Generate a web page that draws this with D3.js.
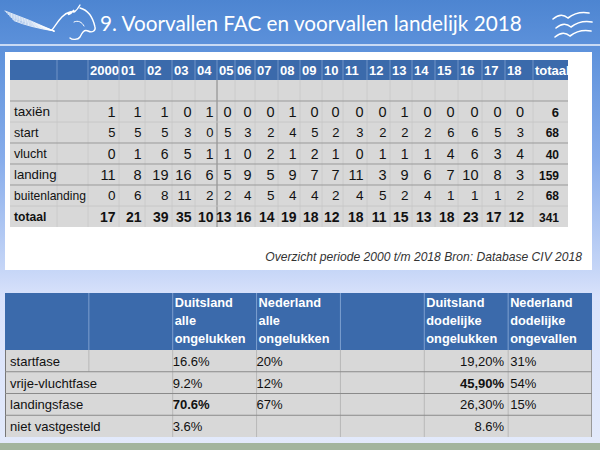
<!DOCTYPE html>
<html>
<head>
<meta charset="utf-8">
<script src="https://cdn.jsdelivr.net/npm/d3@7.9.0/dist/d3.min.js"></script>
<style>
  html, body { margin: 0; padding: 0; background: #fff; }
  svg { display: block; }
</style>
</head>
<body>
<svg id="slide" width="600" height="450"></svg>
<script>
// ---- data: table 1 (voorvallen per jaar) ----
const years = ['2000', '01', '02', '03', '04', '05', '06', '07', '08', '09',
  '10', '11', '12', '13', '14', '15', '16', '17', '18', 'totaal'];
const rowLabels = ['taxiën', 'start', 'vlucht', 'landing', 'buitenlanding', 'totaal'];
const taxien = [1, 1, 1, 0, 1, 0, 0, 0, 1, 0, 0, 0, 0, 1, 0, 0, 0, 0, 0, 6];
const start = [5, 5, 5, 3, 0, 5, 3, 2, 4, 5, 2, 3, 2, 2, 2, 6, 6, 5, 3, 68];
const vlucht = [0, 1, 6, 5, 1, 1, 0, 2, 1, 2, 1, 0, 1, 1, 1, 4, 6, 3, 4, 40];
const landing = [11, 8, 19, 16, 6, 5, 9, 5, 9, 7, 7, 11, 3, 9, 6, 7, 10, 8, 3, 159];
const buitenlanding = [0, 6, 8, 11, 2, 2, 4, 5, 4, 4, 2, 4, 5, 2, 4, 1, 1, 1, 2, 68];
const totaal = [17, 21, 39, 35, 10, 13, 16, 14, 19, 18, 12, 18, 11, 15, 13, 18, 23, 17, 12, 341];
const caption = 'Overzicht periode 2000 t/m 2018 Bron: Database CIV 2018';

// ---- data: table 2 (fasen) ----
const phases = ['startfase', 'vrije-vluchtfase', 'landingsfase', 'niet vastgesteld'];
const headDeAll = ['Duitsland', 'alle', 'ongelukken'];
const headNlAll = ['Nederland', 'alle', 'ongelukken'];
const headDeFatal = ['Duitsland', 'dodelijke', 'ongelukken'];
const headNlFatal = ['Nederland', 'dodelijke', 'ongevallen'];
const deAll = ['16.6%', '9.2%', '70.6%', '3.6%'];
const nlAll = ['20%', '12%', '67%', ''];
const deFatal = ['19,20%', '45,90%', '26,30%', '8.6%'];
const nlFatal = ['31%', '54%', '15%', ''];

const title = '9. Voorvallen FAC en voorvallen landelijk 2018';

// ---- layout ----
const svg = d3.select('#slide');
const sans = '"Liberation Sans", Arial, sans-serif';
const blue = '#3b6aab';
const cellGray = '#d8d8d8';

// font size so that `text` is `width` px wide
function fitSize(text, width, weight, style, family) {
  const probe = svg.append('text')
    .attr('font-family', family || sans).attr('font-size', 100)
    .attr('font-weight', weight || null).attr('font-style', style || null)
    .text(text);
  const w = probe.node().getComputedTextLength();
  probe.remove();
  return 100 * width / w;
}

// background gradient
const defs = svg.append('defs');
const bg = defs.append('linearGradient').attr('id', 'bg')
  .attr('x1', 0).attr('y1', 0).attr('x2', 0).attr('y2', 1);
[[0, '#4d85d1'], [0.12, '#5f93dc'], [0.35, '#86aceb'], [0.6, '#c6d6f7'], [0.66, '#d9e2fb'], [1, '#e3eafb']]
  .forEach(([o, c]) => bg.append('stop').attr('offset', o).attr('stop-color', c));
svg.append('rect').attr('width', 600).attr('height', 450).attr('fill', 'url(#bg)');

// header line + title
svg.append('rect').attr('x', 0).attr('y', 44).attr('width', 600).attr('height', 2).attr('fill', '#c9daf4');
const titleFamily = 'Lato, "Open Sans", sans-serif';
svg.append('text')
  .attr('x', 100).attr('y', 31)
  .attr('font-family', titleFamily)
  .attr('font-size', fitSize(title, 422, null, null, titleFamily)).attr('fill', '#fff')
  .text(title);

// pegasus-ish logo
const logo = svg.append('g').attr('fill', 'none').attr('stroke', '#fff').attr('stroke-linecap', 'round');
d3.range(7).forEach(i => {
  logo.append('path')
    .attr('d', `M${5 + i * 1.5},${11 + i * 1.6} Q${30},${20 + i * 1.2} ${54},${31}`)
    .attr('stroke-width', 0.9).attr('opacity', 0.9);
});
logo.append('path').attr('d', 'M52,30 C58,22 62,14 70,12 C66,16 70,15 74,10 C72,14 76,12 80,5')
  .attr('stroke-width', 1.4);
logo.append('path').attr('d', 'M80,8 C88,10 93,18 95,27 C96,31 92,33 88,31 C84,29 82,33 80,37 C78,40 72,40 70,38')
  .attr('stroke-width', 1.4);
logo.append('path').attr('d', 'M74,22 C78,20 82,22 84,26').attr('stroke-width', 1);

// birds
const birds = svg.append('g').attr('fill', 'none').attr('stroke', '#fff')
  .attr('stroke-width', 1.6).attr('stroke-linecap', 'round');
[[553, 19], [556, 28], [555, 37]].forEach(([bx, by]) => {
  birds.append('path')
    .attr('d', `M${bx},${by} Q${bx + 8},${by - 7} ${bx + 15},${by - 1} Q${bx + 24},${by - 8} ${bx + 36},${by - 6}`);
});

// ---- table 1 ----
svg.append('rect').attr('x', 5).attr('y', 52).attr('width', 587).attr('height', 218).attr('fill', '#fff');

const colW = [47, 31, 31, 26, 27, 23, 22, 18, 20, 23, 22, 22, 21, 24, 23, 22, 23, 23, 24, 23, 28, 35];
const colKeys = ['label', 'pad'].concat(years);
const edges = [10].concat(Array.from(d3.cumsum(colW), v => 10 + v));
const xLeft = d3.scaleOrdinal(colKeys, edges.slice(0, -1));
const xRight = d3.scaleOrdinal(colKeys, edges.slice(1));
const tLeft = edges[0], tRight = edges[edges.length - 1];

const rows1 = ['', ...rowLabels];
const y1 = d3.scaleBand(rows1, [80, 227]);
const series = [taxien, start, vlucht, landing, buitenlanding, totaal];
const rowFont = [14.5, 13, 14, 14.5, 13.5, 14];
const baseLabel = fitSize('buitenlanding', 72);
const labelScale = [1.12, 1.04, 1.04, 1.09, 1, 1.0];

const t1 = svg.append('g');
// header band
t1.append('rect').attr('x', tLeft).attr('y', 60).attr('width', tRight - tLeft).attr('height', 20).attr('fill', blue);
// body band
t1.append('rect').attr('x', tLeft).attr('y', y1.range()[0]).attr('width', tRight - tLeft)
  .attr('height', y1.range()[1] - y1.range()[0]).attr('fill', cellGray);

// vertical grid lines
t1.selectAll('line.vh').data(colKeys.slice(1)).join('line')
  .attr('x1', d => xLeft(d)).attr('x2', d => xLeft(d))
  .attr('y1', 60).attr('y2', 80).attr('stroke', '#7d9fcf').attr('stroke-width', 0.8);
t1.selectAll('line.vb').data(colKeys.slice(1)).join('line')
  .attr('x1', d => xLeft(d)).attr('x2', d => xLeft(d))
  .attr('y1', 80).attr('y2', 227).attr('stroke', '#c9c9c9').attr('stroke-width', 0.8);
// heavy divider before 05
t1.append('line').attr('x1', xLeft('05')).attr('x2', xLeft('05'))
  .attr('y1', 80).attr('y2', 227).attr('stroke', '#8a8a8a').attr('stroke-width', 1);

// horizontal row lines
[rowLabels[0], 'vlucht', 'landing', 'buitenlanding'].forEach(r => {
  t1.append('line').attr('x1', tLeft).attr('x2', tRight)
    .attr('y1', y1(r)).attr('y2', y1(r)).attr('stroke', '#999').attr('stroke-width', 1);
});
['start', 'totaal'].forEach(r => {
  t1.append('line').attr('x1', tLeft).attr('x2', tRight).attr('y1', y1(r)).attr('y2', y1(r))
    .attr('stroke', '#c4c4c4').attr('stroke-width', 0.8);
});

// header labels
t1.selectAll('text.yr').data(years).join('text')
  .attr('x', d => xLeft(d) + 2).attr('y', 75)
  .attr('font-family', sans).attr('font-size', 13).attr('font-weight', 'bold')
  .attr('fill', '#fff').text(d => d);

// row labels
t1.selectAll('text.rl').data(rowLabels).join('text')
  .attr('x', tLeft + 4).attr('y', (d, i) => y1(d) + y1.bandwidth() / 2 + baseLabel * labelScale[i] * 0.36)
  .attr('font-family', sans).attr('font-size', (d, i) => baseLabel * labelScale[i])
  .attr('font-weight', d => d === 'totaal' ? 'bold' : null)
  .attr('fill', '#111').text(d => d);

// values
rowLabels.forEach((r, ri) => {
  t1.selectAll(null).data(series[ri]).join('text')
    .attr('x', (d, i) => xRight(years[i]) - (i >= years.length - 2 ? 9 : 3.5))
    .attr('y', y1(r) + y1.bandwidth() / 2 + rowFont[ri] * 0.36)
    .attr('text-anchor', 'end')
    .attr('font-family', sans)
    .attr('font-size', (d, i) => i === years.length - 1 ? (ri === 0 ? 13 : 12) : rowFont[ri])
    .attr('font-weight', (d, i) => (r === 'totaal' || i === years.length - 1) ? 'bold' : null)
    .attr('fill', '#111')
    .text(d => d);
});

// caption
svg.append('text').attr('x', 582).attr('y', 261).attr('text-anchor', 'end')
  .attr('font-family', sans).attr('font-size', fitSize(caption, 317, null, 'italic'))
  .attr('font-style', 'italic')
  .attr('fill', '#333').text(caption);

// ---- table 2 ----
const cols2 = ['label', 'label2', 'deAll', 'nlAll', 'gap', 'deFatal', 'nlFatal'];
const x2 = d3.scaleBand(cols2, [5, 592]);
const y2 = d3.scaleBand(phases, [350, 437]);
const t2 = svg.append('g');
const bodySize = fitSize('vrije-vluchtfase', 87);
const headSize = fitSize('ongelukken', 71, 'bold');

t2.append('rect').attr('x', 5).attr('y', 293).attr('width', 587).attr('height', 57).attr('fill', blue);
t2.append('rect').attr('x', 5).attr('y', 350).attr('width', 587).attr('height', 87).attr('fill', cellGray);

// vertical lines
t2.selectAll('line.h').data(cols2.slice(1)).join('line')
  .attr('x1', d => x2(d)).attr('x2', d => x2(d)).attr('y1', 293).attr('y2', 350)
  .attr('stroke', '#7d9fcf').attr('stroke-width', 1);
t2.selectAll('line.b').data(cols2.slice(2)).join('line')
  .attr('x1', d => x2(d)).attr('x2', d => x2(d)).attr('y1', 350).attr('y2', 437)
  .attr('stroke', '#b8b8b8').attr('stroke-width', 1);
t2.append('line').attr('x1', x2('label2')).attr('x2', x2('label2'))
  .attr('y1', y2('startfase')).attr('y2', y2('startfase') + y2.bandwidth())
  .attr('stroke', '#b8b8b8').attr('stroke-width', 1);
t2.append('line').attr('x1', 5.5).attr('x2', 5.5).attr('y1', 350).attr('y2', 437)
  .attr('stroke', '#777').attr('stroke-width', 1);
t2.append('line').attr('x1', 591.5).attr('x2', 591.5).attr('y1', 350).attr('y2', 437)
  .attr('stroke', '#999').attr('stroke-width', 1);
phases.slice(1).forEach(p => {
  t2.append('line').attr('x1', 5).attr('x2', 592).attr('y1', y2(p)).attr('y2', y2(p))
    .attr('stroke', '#8a8a8a').attr('stroke-width', 1.2);
});

// header text
[['deAll', headDeAll], ['nlAll', headNlAll], ['deFatal', headDeFatal], ['nlFatal', headNlFatal]]
  .forEach(([c, lines]) => {
    t2.selectAll(null).data(lines).join('text')
      .attr('x', x2(c) + 2).attr('y', (d, i) => 307 + i * 18)
      .attr('font-family', sans).attr('font-size', headSize).attr('font-weight', 'bold')
      .attr('fill', '#fff').text(d => d);
  });

const rowBase = p => y2(p) + y2.bandwidth() / 2 + 5;
t2.selectAll('text.ph').data(phases).join('text')
  .attr('x', 10).attr('y', d => rowBase(d))
  .attr('font-family', sans).attr('font-size', bodySize).attr('fill', '#111').text(d => d);

const boldCells = ['70.6%', '45,90%'];
const cell = (vals, c, anchor, dx) => {
  t2.selectAll(null).data(vals).join('text')
    .attr('x', anchor === 'end' ? x2(c) + x2.bandwidth() + dx : x2(c) + dx)
    .attr('y', (d, i) => rowBase(phases[i]))
    .attr('text-anchor', anchor)
    .attr('font-family', sans).attr('font-size', bodySize)
    .attr('font-weight', d => boldCells.includes(d) ? 'bold' : null)
    .attr('fill', '#111').text(d => d);
};
cell(deAll, 'deAll', 'start', 0);
cell(nlAll, 'nlAll', 'start', 0);
cell(deFatal, 'deFatal', 'end', -4);
cell(nlFatal, 'nlFatal', 'start', 2);

// bottom band
svg.append('rect').attr('x', 0).attr('y', 443).attr('width', 600).attr('height', 7).attr('fill', '#a3b59e');
</script>
</body>
</html>
